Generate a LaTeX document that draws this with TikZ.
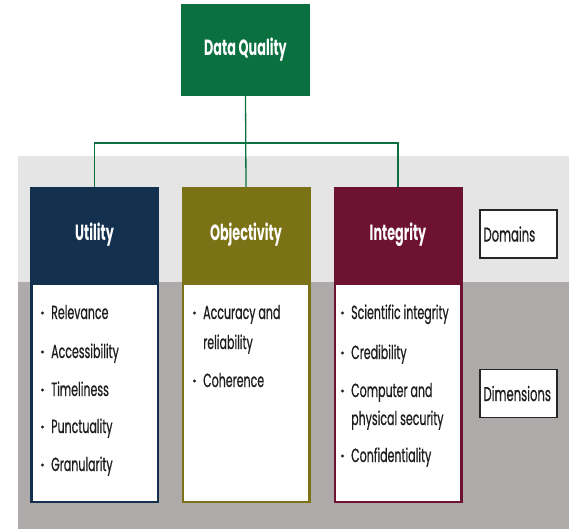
\documentclass[tikz,border=0pt]{standalone}
\usepackage{fontspec}
\setmainfont{Poppins}[FakeStretch=0.58]
\newfontfamily\bodyfont{Poppins}[FakeStretch=0.58,FakeBold=0.6]
\definecolor{dqgreen}{HTML}{0A7040}
\definecolor{navy}{HTML}{13304F}
\definecolor{olive}{HTML}{7B7215}
\definecolor{maroon}{HTML}{6D1331}
\definecolor{lightband}{HTML}{E5E5E5}
\definecolor{darkband}{HTML}{AEAAAA}
\definecolor{txt}{HTML}{1E1E1E}
\tikzset{
  hdr/.style={inner sep=0pt, minimum width=129pt, minimum height=96pt, text=white,
    font=\fontsize{22}{26}\selectfont\bfseries},
  bodybox/.style={fill=white, line width=2.5pt, inner sep=0pt, minimum width=126.5pt, minimum height=218.5pt},
  item/.style={anchor=base west, inner sep=0pt, text=txt, font=\bodyfont\fontsize{19}{22}\selectfont},
  conn/.style={draw=dqgreen, line width=1.3pt},
  bul/.style={fill=txt},
  legend/.style={draw=black!85, line width=1.5pt, fill=white, inner sep=0pt,
    minimum width=77pt, minimum height=48pt, text=txt, text width=70pt, align=left,
    font=\bodyfont\fontsize{20}{23}\selectfont}
}
\newcommand{\bulletat}[1]{\fill[bul] ([xshift=-8.5pt,yshift=6pt]#1.base west) circle (1.6pt);}
\begin{document}
\begin{tikzpicture}[x=1pt,y=-1pt]
\useasboundingbox (0,0) rectangle (569,529);
\fill[lightband] (18,156) rectangle (569,282);
\fill[darkband] (18,282) rectangle (569,529);

% top node
\node[hdr, fill=dqgreen, minimum width=129pt, minimum height=92pt] (dq) at (245.5,50) {Data Quality};

% domain headers
\node[hdr, fill=navy] (util) at (94.5,235) {Utility};
\node[hdr, fill=olive] (obj) at (246,235) {Objectivity};
\node[hdr, fill=maroon] (int) at (398,235) {Integrity};

% bodies
\node[bodybox, draw=navy] (ubody) at (94.5,392.5) {};
\node[bodybox, draw=olive] (obody) at (246,392.5) {};
\node[bodybox, draw=maroon] (ibody) at (398,392.5) {};

% connectors
\coordinate (bus) at (246,143);
\draw[conn] (dq.south) -- (obj.north);
\draw[conn] (util.north) -- (util.north |- bus) -- (int.north |- bus) -- (int.north);

% Utility items
\node[item] (u1) at (51,319) {Relevance};
\node[item] (u2) at (51,358) {Accessibility};
\node[item] (u3) at (51,396) {Timeliness};
\node[item] (u4) at (51,433) {Punctuality};
\node[item] (u5) at (51,471) {Granularity};
\foreach \n in {u1,u2,u3,u4,u5} {\bulletat{\n}}

% Objectivity items
\node[item] (o1) at (203,319) {Accuracy and};
\node[item] (o1b) at (203,349) {reliability};
\node[item] (o2) at (203,387) {Coherence};
\foreach \n in {o1,o2} {\bulletat{\n}}

% Integrity items
\node[item] (i1) at (351,319) {Scientific integrity};
\node[item] (i2) at (351,359) {Credibility};
\node[item] (i3) at (351,397) {Computer and};
\node[item] (i3b) at (351,425) {physical security};
\node[item] (i4) at (351,462) {Confidentiality};
\foreach \n in {i1,i2,i3,i4} {\bulletat{\n}}

% legend boxes
\node[legend] (dom) at (518.5,234) {Domains};
\node[legend] (dim) at (518.5,393.5) {Dimensions};
\end{tikzpicture}
\end{document}
